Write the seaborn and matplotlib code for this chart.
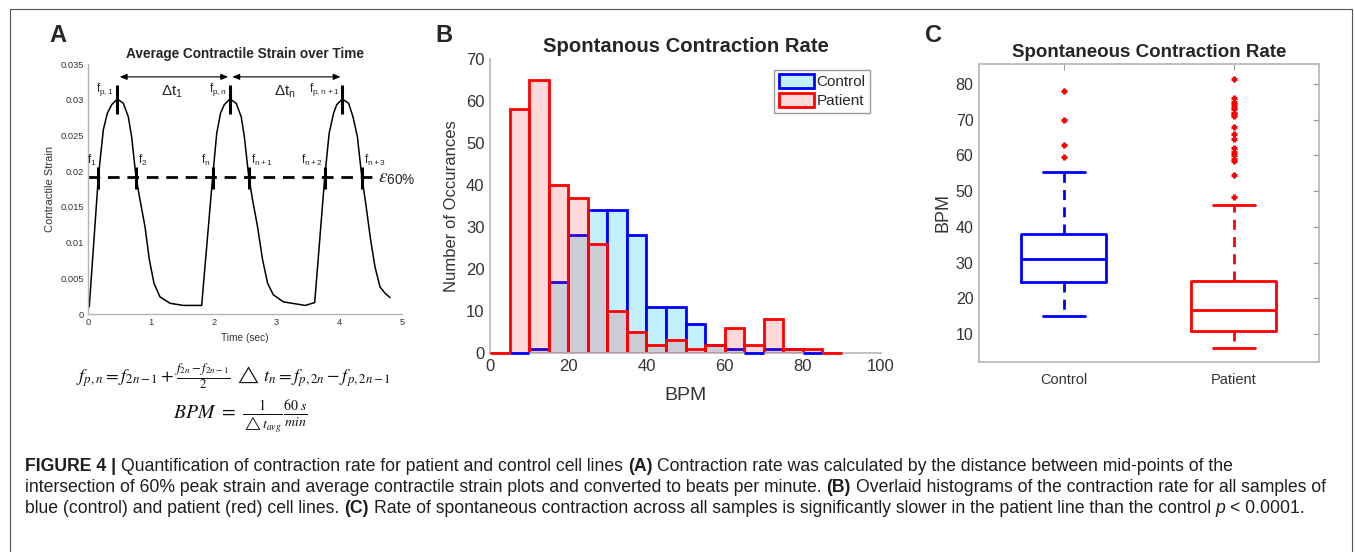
import numpy as np
import matplotlib
matplotlib.use("Agg")
import matplotlib.pyplot as plt
from matplotlib.patches import Patch
from matplotlib.lines import Line2D
import seaborn as sns

W, H = 1355, 552

# ---- panel A: average contractile strain trace ----
time_s = [0.02, 0.165, 0.244, 0.308, 0.377, 0.467, 0.563, 0.642, 0.695, 0.764,
          0.828, 0.908, 0.977, 1.051, 1.146, 1.306, 1.518, 1.81,
          1.985, 2.05, 2.11, 2.17, 2.26, 2.36, 2.44, 2.49, 2.56, 2.62, 2.70,
          2.78, 2.86, 2.95, 3.11, 3.32, 3.46, 3.61,
          3.77, 3.84, 3.91, 3.96, 4.05, 4.15, 4.22, 4.29, 4.36, 4.43, 4.50,
          4.57, 4.65, 4.73, 4.81]
strain = [0.0010, 0.0192, 0.0258, 0.0281, 0.0293, 0.0301, 0.0295, 0.0276, 0.0248, 0.0192,
          0.0160, 0.0122, 0.0076, 0.0043, 0.0024, 0.0015, 0.0012, 0.0012,
          0.0192, 0.0253, 0.0281, 0.0293, 0.0301, 0.0295, 0.0276, 0.0248, 0.0192, 0.0160, 0.0122,
          0.0076, 0.0043, 0.0027, 0.0017, 0.0014, 0.0012, 0.0016,
          0.0192, 0.0253, 0.0281, 0.0293, 0.0301, 0.0295, 0.0276, 0.0248, 0.0192, 0.0150, 0.0104,
          0.0066, 0.0038, 0.0029, 0.0023]
eps60 = 0.0192
eps_end = 4.55
cross_t = [0.165, 0.764, 1.985, 2.56, 3.77, 4.36]
peak_t = [0.467, 2.26, 4.05]
cross_labels = [r'$\mathregular{f_1}$', r'$\mathregular{f_2}$', r'$\mathregular{f_n}$',
                r'$\mathregular{f_{n+1}}$', r'$\mathregular{f_{n+2}}$', r'$\mathregular{f_{n+3}}$']
peak_labels = [r'$\mathregular{f_{p,1}}$', r'$\mathregular{f_{p,n}}$', r'$\mathregular{f_{p,n+1}}$']
dt_labels = [r'$\mathregular{\Delta t_1}$', r'$\mathregular{\Delta t_n}$']
a_yticks = [0, 0.005, 0.01, 0.015, 0.02, 0.025, 0.03, 0.035]
a_yticklabels = ['0', '0.005', '0.01', '0.015', '0.02', '0.025', '0.03', '0.035']

# ---- panel B: histogram counts per 5 BPM bin ----
bin_width = 5
control_start = 5
control_counts = [0, 1, 17, 28, 34, 34, 28, 11, 11, 7, 2, 1, 0, 1, 1, 0]
patient_start = 0
patient_counts = [0, 58, 65, 40, 37, 26, 10, 5, 2, 3, 1, 2, 6, 2, 8, 1, 1, 0]

# ---- panel C: box plot summary ----
groups = ['Control', 'Patient']
q1 = [24.5, 11.0]
median = [31.0, 16.8]
q3 = [38.0, 25.0]
whisker_lo = [15.0, 6.0]
whisker_hi = [55.5, 46.0]
control_outliers = [59.5, 63, 70, 78]
patient_outliers = [48.5, 54.5, 58.5, 59, 60, 61, 62, 64.5, 66, 68,
                    71, 71.5, 72, 73, 73.5, 74.5, 75, 76, 81.5]

caption_lines = [
    [("FIGURE 4 |", "b"), ("Quantification of contraction rate for patient and control cell lines", "n"),
     ("(A)", "b"), ("Contraction rate was calculated by the distance between mid-points of the", "n")],
    [("intersection of 60% peak strain and average contractile strain plots and converted to beats per minute.", "n"),
     ("(B)", "b"), ("Overlaid histograms of the contraction rate for all samples of", "n")],
    [("blue (control) and patient (red) cell lines.", "n"), ("(C)", "b"),
     ("Rate of spontaneous contraction across all samples is significantly slower in the patient line than the control", "n"),
     ("p", "i"), ("< 0.0001.", "n")],
]

sns.set_theme(style="white")
plt.rcParams['font.family'] = ['Liberation Sans', 'DejaVu Sans']

fig = plt.figure(figsize=(W / 100, H / 100), dpi=100)
renderer = fig.canvas.get_renderer()


def px_rect(left, top, right, bottom):
    return [left / W, 1 - bottom / H, (right - left) / W, (bottom - top) / H]


spine_col = '#b5b5b5'
tick_col = '#333333'

# ================= panel A =================
axA = fig.add_axes(px_rect(88, 64, 402, 314))
sns.lineplot(x=time_s, y=strain, ax=axA, color='black', lw=1.1)
axA.hlines(eps60, 0, eps_end, colors='black', lw=2, linestyles=(0, (4.2, 2.8)))
axA.vlines(cross_t, eps60 - 0.0017, eps60 + 0.0014, colors='black', lw=2.2)
axA.vlines(peak_t, 0.028, 0.032, colors='black', lw=2.2)
for i, (t, lab) in enumerate(zip(cross_t, cross_labels)):
    if i % 2 == 0:
        axA.text(t - 0.03, 0.0204, lab, ha='right', va='bottom', fontsize=8.5)
    else:
        axA.text(t + 0.03, 0.0204, lab, ha='left', va='bottom', fontsize=8.5)
for t, lab in zip(peak_t, peak_labels):
    axA.text(t - 0.05, 0.0314, lab, ha='right', va='center', fontsize=8.5)
for k in range(2):
    axA.annotate('', xy=(peak_t[k + 1] - 0.03, 0.0332), xytext=(peak_t[k] + 0.04, 0.0332),
                 arrowprops=dict(arrowstyle='<|-|>,head_length=0.35,head_width=0.15',
                                 color='black', lw=0.8, shrinkA=0, shrinkB=0))
    axA.text((peak_t[k] + peak_t[k + 1]) / 2 - 0.02, 0.0311, dt_labels[k],
             ha='center', va='center', fontsize=11)
axA.text(eps_end + 0.06, eps60 - 0.0002, r'$\varepsilon_{\mathregular{60\%}}$', ha='left', va='center',
         fontsize=14, math_fontfamily='stix')
axA.set_xlim(0, 5)
axA.set_ylim(0, 0.035)
axA.set_xticks(range(6))
axA.set_yticks(a_yticks)
axA.set_yticklabels(a_yticklabels)
axA.tick_params(direction='in', length=2.5, width=0.6, color='#888888',
                labelsize=6.7, labelcolor=tick_col, pad=3)
for s in ['top', 'right']:
    axA.spines[s].set_visible(False)
for s in ['left', 'bottom']:
    axA.spines[s].set_color(spine_col)
    axA.spines[s].set_linewidth(1)
axA.set_title('Average Contractile Strain over Time', fontsize=9.8, fontweight='bold', pad=4)
axA.set_xlabel('Time (sec)', fontsize=7.3, color=tick_col)
axA.set_ylabel('Contractile Strain', fontsize=8, color=tick_col)
axA.xaxis.label.set_va('center')
axA.yaxis.label.set_va('center')
axA.xaxis.set_label_coords(0.5, (314 - 338) / 250)
axA.yaxis.set_label_coords((50 - 88) / 314, 0.5)

# formulas under panel A
formulas = [
    (r'$f_{p,n} = f_{2n-1} + \frac{f_{2n}-f_{2n-1}}{2}\ \triangle\, t_n = f_{p,2n} - f_{p,2n-1}$', 234, 377, 315),
    (r'$BPM\ =\ \frac{1}{\triangle t_{avg}}\frac{60\ s}{min}$', 240, 417, 135),
]
for txt, cx, cy, width in formulas:
    probe = fig.text(0, 0, txt, fontsize=12, math_fontfamily='stix')
    w12 = probe.get_window_extent(renderer).width
    probe.remove()
    fig.text(cx / W, 1 - cy / H, txt, fontsize=12 * width / w12, math_fontfamily='stix',
             ha='center', va='center', color='#111111')

# ================= panel B =================
axB = fig.add_axes(px_rect(490, 59, 881, 353))
control_edges = [control_start + bin_width * k for k in range(len(control_counts) + 1)]
patient_edges = [patient_start + bin_width * k for k in range(len(patient_counts) + 1)]
control_mid = [e + bin_width / 2 for e in control_edges[:-1]]
patient_mid = [e + bin_width / 2 for e in patient_edges[:-1]]
control_face = '#c2f0fc'
patient_face = (1, 0, 0, 0.15)
sns.histplot(x=control_mid, weights=control_counts, bins=control_edges,
             ax=axB, facecolor=control_face, edgecolor='#0000ff', linewidth=2, alpha=1)
# empty bins are drawn as a flat edge on the baseline, as in the original
for e, n in zip(control_edges[:-1], control_counts):
    if n == 0:
        axB.hlines(0, e, e + bin_width, colors='#0000ff', lw=2, clip_on=False, zorder=3)
sns.histplot(x=patient_mid, weights=patient_counts, bins=patient_edges,
             ax=axB, facecolor=patient_face, edgecolor='#ff0000', linewidth=2)
for e, n in zip(patient_edges[:-1], patient_counts):
    if n == 0:
        axB.hlines(0, e, e + bin_width, colors='#ff0000', lw=2, clip_on=False, zorder=3)
axB.set_xlim(0, 100)
axB.set_ylim(0, 70)
axB.set_xticks(range(0, 101, 20))
axB.set_yticks(range(0, 71, 10))
axB.tick_params(direction='in', length=4, width=0.8, color='#999999',
                labelsize=12, labelcolor=tick_col, pad=4)
for s in ['top', 'right']:
    axB.spines[s].set_visible(False)
for s in ['left', 'bottom']:
    axB.spines[s].set_color(spine_col)
    axB.spines[s].set_linewidth(1.2)
axB.set_title('Spontanous Contraction Rate', fontsize=14.6, fontweight='bold', pad=5)
axB.set_xlabel('BPM', fontsize=14, color=tick_col)
axB.set_ylabel('Number of Occurances', fontsize=12, color=tick_col)
axB.xaxis.label.set_va('center')
axB.yaxis.label.set_va('center')
axB.xaxis.set_label_coords(0.5, (353 - 396) / 294)
axB.yaxis.set_label_coords((451 - 490) / 391, 0.5)
handles = [Patch(facecolor=control_face, edgecolor='#0000ff', lw=2, label='Control'),
           Patch(facecolor=patient_face, edgecolor='#ff0000', lw=2, label='Patient')]
leg = axB.legend(handles=handles, loc='upper right', fontsize=11, frameon=True,
                 fancybox=False, edgecolor='#999999', framealpha=1,
                 handlelength=2.3, handleheight=1.0, handletextpad=0.2,
                 labelspacing=0.25, borderpad=0.3, borderaxespad=0.7)
leg.get_frame().set_linewidth(1)

# ================= panel C =================
axC = fig.add_axes(px_rect(979, 64, 1319, 362))
outliers = [control_outliers, patient_outliers]
stats = [dict(label=g, q1=q1[i], med=median[i], q3=q3[i], whislo=whisker_lo[i],
              whishi=whisker_hi[i], fliers=outliers[i]) for i, g in enumerate(groups)]
art = axC.bxp(stats, positions=[1, 2], widths=0.5, capwidths=0.25, showfliers=True,
              boxprops=dict(lw=2), whiskerprops=dict(lw=2, ls=(0, (3.6, 2.6))),
              capprops=dict(lw=2), medianprops=dict(lw=2),
              flierprops=dict(marker='+', markeredgecolor='#ff0000', markersize=5,
                              markeredgewidth=2.2, linestyle='none'))
box_colors = ['#0000ff', '#ff0000']
for i, c in enumerate(box_colors):
    art['boxes'][i].set_color(c)
    art['medians'][i].set_color(c)
    for j in (2 * i, 2 * i + 1):
        art['whiskers'][j].set_color(c)
        art['caps'][j].set_color(c)
axC.set_xlim(0.5, 2.5)
axC.set_ylim(2.2, 85.6)
axC.set_yticks(range(10, 81, 10))
axC.tick_params(axis='y', direction='in', length=4, width=0.8, color='#999999',
                labelsize=11.5, labelcolor=tick_col, right=True, pad=4)
axC.tick_params(axis='x', direction='in', length=4, width=0.8, color='#999999',
                labelsize=10.5, labelcolor=tick_col, top=True, pad=8)
for s in axC.spines.values():
    s.set_color(spine_col)
    s.set_linewidth(1.2)
axC.set_title('Spontaneous Contraction Rate', fontsize=13.5, fontweight='bold', pad=5)
axC.set_ylabel('BPM', fontsize=13, color=tick_col)
axC.yaxis.label.set_va('center')
axC.yaxis.set_label_coords((943 - 979) / 340, 0.5)

# panel letters
for lab, x, y in [('A', 58, 35), ('B', 444, 35), ('C', 934, 35)]:
    fig.text(x / W, 1 - y / H, lab, fontsize=17, fontweight='bold', ha='center', va='center')

# outer frame
fig.add_artist(Line2D([9.5 / W, 9.5 / W, 1352 / W, 1352 / W], [0, 1 - 8.5 / H, 1 - 8.5 / H, 0],
                      color='#555555', lw=0.8))


# caption with bold / italic runs
def draw_line(parts, x_px, y_px, size, keep=True):
    x = x_px
    for k, (txt, style) in enumerate(parts):
        kw = dict(fontsize=size, color='#1e1e1e', ha='left', va='baseline')
        if style == 'b':
            kw['fontweight'] = 'bold'
        if style == 'i':
            kw['fontstyle'] = 'italic'
        t = fig.text(x / W, 1 - y_px / H, txt, **kw)
        x += t.get_window_extent(renderer).width + 0.278 * size * 100 / 72
        if not keep:
            t.remove()
    return x - 0.278 * size * 100 / 72 - x_px


w10 = draw_line(caption_lines[1], 0, 0, 10, keep=False)
cap_size = 10 * 1310 / w10
for line, y in zip(caption_lines, [471, 492, 513]):
    draw_line(line, 25, y, cap_size)

fig.savefig('out.png', dpi=100)
